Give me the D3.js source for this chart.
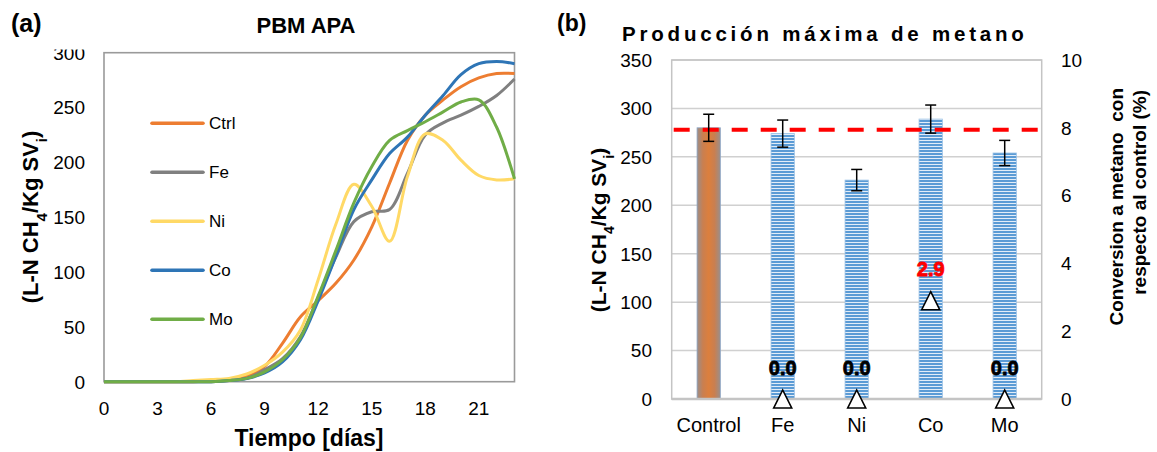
<!DOCTYPE html>
<html>
<head>
<meta charset="utf-8">
<script src="https://cdn.jsdelivr.net/npm/d3@7"></script>
<style>
  body { margin: 0; background: #fff; }
  text { font-family: "Liberation Sans", Arial, sans-serif; fill: #000; }
</style>
</head>
<body>
<div id="chart"></div>
<script>
// ---- data: panel (a) cumulative methane, per day ----
var days = [0,1,2,3,4,5,6,7,8,9,10,11,12,13,14,15,16,17,18,19,20,21,22,23];
var ctrl = [0,0,0,0,0,0,1,2,5,14,35,59,74,90,111,141,181,220,243,257,269,277,281,281];
var fe   = [0,0,0,0,0,0,0,1,3,11,21,41,77,114,146,155,157,190,225,236,243,251,261,276];
var ni   = [0,0,0,0,0,1,2,3,7,15,27,47,93,144,180,160,128,187,226,220,202,188,184,185];
var co   = [0,0,0,0,0,0,0,1,3,8,18,38,74,115,157,184,208,223,243,261,280,290,292,290];
var mo   = [0,0,0,0,0,0,0,1,3,9,20,40,78,120,163,196,220,229,237,246,255,257,232,185];
var seriesNames = ["Ctrl", "Fe", "Ni", "Co", "Mo"];
var seriesColors = ["#ED7D31", "#808080", "#FFD966", "#2E75B6", "#70AD47"];
var xTicksA = [0,3,6,9,12,15,18,21];
var yTicksA = [0,50,100,150,200,250,300];

// ---- data: panel (b) max production ----
var cats = ["Control", "Fe", "Ni", "Co", "Mo"];
var prod = [280, 274, 226, 289, 254];
var prodErr = [14, 14, 11, 14.5, 13];
var conv = [null, 0.0, 0.0, 2.9, 0.0];
var refLine = 278;
var yTicksB = [0,50,100,150,200,250,300,350];
var y2TicksB = [0,2,4,6,8,10];

var svg = d3.select("#chart").append("svg")
  .attr("width", 1157)
  .attr("height", 452);

var defs = svg.append("defs");

// ================= panel (a) =================
var A = {left: 104, right: 514.5, top: 52.7, bottom: 381.7};

var xA = d3.scaleLinear().domain([0, 23]).range([A.left, A.right]);
var yA = d3.scaleLinear().domain([0, 300]).range([A.bottom, A.top]);

svg.append("text").attr("x", 11).attr("y", 32)
  .style("font-size", "25px").style("font-weight", "bold").text("(a)");
svg.append("text").attr("x", 306).attr("y", 33).attr("text-anchor", "middle")
  .style("font-size", "22px").style("font-weight", "bold").text("PBM APA");

// top tick label is cut in the original
defs.append("clipPath").attr("id", "clipYA")
  .append("rect").attr("x", 0).attr("y", 49.5).attr("width", 104).attr("height", 400);

svg.append("g").attr("clip-path", "url(#clipYA)")
  .selectAll("text").data(yTicksA).enter().append("text")
  .attr("x", 85).attr("y", d => yA(d)).attr("dy", "0.36em")
  .attr("text-anchor", "end").style("font-size", "19px")
  .text(d => d);

svg.append("g").selectAll("text").data(xTicksA).enter().append("text")
  .attr("x", d => xA(d)).attr("y", 415)
  .attr("text-anchor", "middle").style("font-size", "19px")
  .text(d => d);

svg.append("rect")
  .attr("x", A.left).attr("y", A.top)
  .attr("width", A.right - A.left).attr("height", A.bottom - A.top)
  .attr("fill", "none").attr("stroke", "#9a9a9a").attr("stroke-width", 1.6);

var allSeries = [ctrl, fe, ni, co, mo];
var line = d3.line()
  .x((d, i) => xA(days[i]))
  .y(d => yA(d))
  .curve(d3.curveCatmullRom.alpha(0.5));

svg.append("g").selectAll("path").data(allSeries).enter().append("path")
  .attr("d", d => line(d))
  .attr("fill", "none")
  .attr("stroke", (d, i) => seriesColors[i])
  .attr("stroke-width", 3)
  .attr("stroke-linejoin", "round");

// legend
var leg = svg.append("g").selectAll("g").data(seriesNames).enter().append("g")
  .attr("transform", (d, i) => `translate(152, ${123.3 + i * 49})`);
leg.append("line").attr("x1", 0).attr("x2", 51).attr("y1", 0).attr("y2", 0)
  .attr("stroke", (d, i) => seriesColors[i]).attr("stroke-width", 3.6)
  .attr("stroke-linecap", "round");
leg.append("text").attr("x", 57).attr("dy", "0.36em")
  .style("font-size", "17px").text(d => d);

// axis titles
var ylabA = svg.append("text")
  .attr("transform", "translate(38, 217) rotate(-90)")
  .attr("text-anchor", "middle")
  .style("font-size", "22px").style("font-weight", "bold");
ylabA.append("tspan").text("(L-N CH");
ylabA.append("tspan").attr("baseline-shift", "sub").style("font-size", "15px").text("4");
ylabA.append("tspan").text("/Kg SV");
ylabA.append("tspan").attr("baseline-shift", "sub").style("font-size", "15px").text("i");
ylabA.append("tspan").text(")");

svg.append("text").attr("x", 309).attr("y", 446).attr("text-anchor", "middle")
  .style("font-size", "23px").style("font-weight", "bold").text("Tiempo [días]");

// ================= panel (b) =================
var B = {left: 671.7, right: 1041.7, top: 60, bottom: 399};

var xB = d3.scaleBand().domain(cats).range([B.left, B.right])
  .paddingInner(0.685).paddingOuter(0.3425);
var yB = d3.scaleLinear().domain([0, 350]).range([B.bottom, B.top]);
var y2B = d3.scaleLinear().domain([0, 10]).range([B.bottom, B.top]);

svg.append("text").attr("x", 557).attr("y", 31)
  .style("font-size", "23px").style("font-weight", "bold").text("(b)");
svg.append("text").attr("x", 622).attr("y", 41)
  .style("font-size", "20.5px").style("font-weight", "bold")
  .style("letter-spacing", "3.8px")
  .text("Producción máxima de metano");

// gridlines
svg.append("g").selectAll("line").data(yTicksB).enter().append("line")
  .attr("x1", B.left).attr("x2", B.right)
  .attr("y1", d => yB(d)).attr("y2", d => yB(d))
  .attr("stroke", "#d0d0d0").attr("stroke-width", 1.5);

svg.append("rect")
  .attr("x", B.left).attr("y", B.top)
  .attr("width", B.right - B.left).attr("height", B.bottom - B.top)
  .attr("fill", "none").attr("stroke", "#c4c4c4").attr("stroke-width", 1.5);

// tick labels
svg.append("g").selectAll("text").data(yTicksB).enter().append("text")
  .attr("x", 652).attr("y", d => yB(d)).attr("dy", "0.36em")
  .attr("text-anchor", "end").style("font-size", "19px").text(d => d);
svg.append("g").selectAll("text").data(y2TicksB).enter().append("text")
  .attr("x", 1061).attr("y", d => y2B(d)).attr("dy", "0.36em")
  .attr("text-anchor", "start").style("font-size", "19px").text(d => d);
svg.append("g").selectAll("text").data(cats).enter().append("text")
  .attr("x", d => xB(d) + xB.bandwidth() / 2).attr("y", 432)
  .attr("text-anchor", "middle").style("font-size", "20px").text(d => d);

// bar fills
var grad = defs.append("linearGradient").attr("id", "ctrlGrad")
  .attr("x1", "0%").attr("x2", "100%").attr("y1", "0%").attr("y2", "0%");
grad.append("stop").attr("offset", "0%").attr("stop-color", "#9a8e8a");
grad.append("stop").attr("offset", "25%").attr("stop-color", "#c97f50");
grad.append("stop").attr("offset", "50%").attr("stop-color", "#dc7f3d");
grad.append("stop").attr("offset", "75%").attr("stop-color", "#c97f50");
grad.append("stop").attr("offset", "100%").attr("stop-color", "#9a8e8a");

var pat = defs.append("pattern").attr("id", "hatch")
  .attr("patternUnits", "userSpaceOnUse").attr("width", 8).attr("height", 3);
pat.append("rect").attr("width", 8).attr("height", 3).attr("fill", "#e3edf8");
pat.append("rect").attr("width", 8).attr("height", 2).attr("fill", "#5b9bd5");

svg.append("g").selectAll("rect").data(prod).enter().append("rect")
  .attr("x", (d, i) => xB(cats[i]))
  .attr("y", d => yB(d))
  .attr("width", xB.bandwidth())
  .attr("height", d => B.bottom - yB(d))
  .attr("fill", (d, i) => i === 0 ? "url(#ctrlGrad)" : "url(#hatch)")
  .attr("stroke", (d, i) => i === 0 ? "#8fa8c8" : "#9dc3e6")
  .attr("stroke-width", 0.8);

// bottom axis line
svg.append("line").attr("x1", B.left).attr("x2", B.right)
  .attr("y1", B.bottom).attr("y2", B.bottom)
  .attr("stroke", "#c4c4c4").attr("stroke-width", 2.5);

// reference dashed line
svg.append("line").attr("x1", B.left + 2).attr("x2", B.right)
  .attr("y1", yB(refLine)).attr("y2", yB(refLine))
  .attr("stroke", "#ff0000").attr("stroke-width", 4)
  .attr("stroke-dasharray", "16,13");

// error bars
var eb = svg.append("g").selectAll("g").data(prod).enter().append("g")
  .attr("transform", (d, i) => `translate(${xB(cats[i]) + xB.bandwidth() / 2},0)`);
eb.append("line").attr("x1", 0).attr("x2", 0)
  .attr("y1", (d, i) => yB(d + prodErr[i])).attr("y2", (d, i) => yB(d - prodErr[i]))
  .attr("stroke", "#000").attr("stroke-width", 1.5);
eb.append("line").attr("x1", -5.5).attr("x2", 5.5)
  .attr("y1", (d, i) => yB(d + prodErr[i])).attr("y2", (d, i) => yB(d + prodErr[i]))
  .attr("stroke", "#000").attr("stroke-width", 1.5);
eb.append("line").attr("x1", -5.5).attr("x2", 5.5)
  .attr("y1", (d, i) => yB(d - prodErr[i])).attr("y2", (d, i) => yB(d - prodErr[i]))
  .attr("stroke", "#000").attr("stroke-width", 1.5);

// conversion markers (secondary axis)
var convData = conv.map((v, i) => ({cat: cats[i], v: v})).filter(d => d.v !== null);
var mk = svg.append("g").selectAll("g").data(convData).enter().append("g")
  .attr("transform", d => `translate(${xB(d.cat) + xB.bandwidth() / 2},${y2B(d.v)})`);
mk.append("path").attr("d", "M0,-9L9,9L-9,9Z")
  .attr("fill", "#fff").attr("stroke", "#000").attr("stroke-width", 1.6)
  .attr("stroke-linejoin", "miter");
mk.append("text").attr("y", -24.5).attr("text-anchor", "middle")
  .style("font-size", "20px").style("font-weight", "bold")
  .style("fill", d => d.v > 0 ? "#ff0000" : "#000")
  .style("stroke", d => d.v > 0 ? "#ff0000" : "#000").style("stroke-width", 0.8)
  .text(d => d.v.toFixed(1));

// axis titles
var ylabB = svg.append("text")
  .attr("transform", "translate(606, 230) rotate(-90)")
  .attr("text-anchor", "middle")
  .style("font-size", "21px").style("font-weight", "bold");
ylabB.append("tspan").text("(L-N CH");
ylabB.append("tspan").attr("baseline-shift", "sub").style("font-size", "14px").text("4");
ylabB.append("tspan").text("/Kg SV");
ylabB.append("tspan").attr("baseline-shift", "sub").style("font-size", "14px").text("i");
ylabB.append("tspan").text(")");

svg.append("text")
  .attr("transform", "translate(1123, 88) rotate(-90)")
  .attr("text-anchor", "end").attr("xml:space", "preserve")
  .style("font-size", "19px").style("font-weight", "bold")
  .text("Conversion a metano  con");
svg.append("text")
  .attr("transform", "translate(1146, 90) rotate(-90)")
  .attr("text-anchor", "end")
  .style("font-size", "19px").style("font-weight", "bold")
  .text("respecto al control (%)");
</script>
</body>
</html>
